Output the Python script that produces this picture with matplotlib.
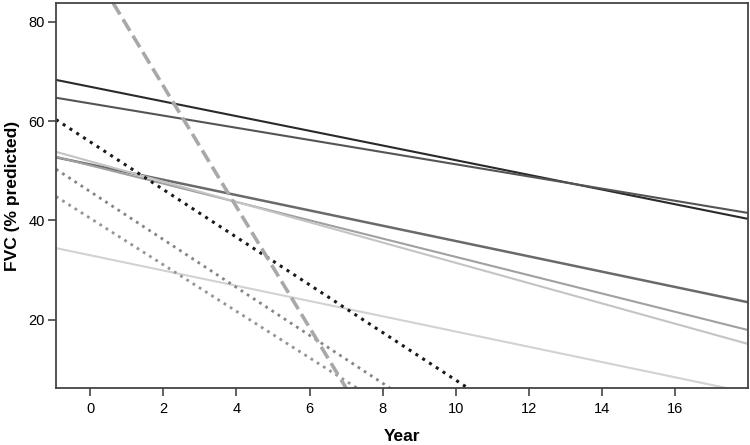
import matplotlib
matplotlib.use("Agg")
import matplotlib.pyplot as plt

# fitted FVC trajectories as (year, FVC) end points
year_start = [-0.93, -0.93, -0.93, -0.93, -0.93, -0.93, -0.93, -0.93, -0.93, 0.63]
fvc_start = [68.3, 64.7, 52.7, 52.8, 53.8, 34.4, 60.3, 50.3, 44.8, 83.8]
year_end = [17.98, 17.98, 17.98, 17.98, 17.98, 17.4, 10.33, 8.2, 7.3, 7.0]
fvc_end = [40.3, 41.5, 23.5, 17.9, 15.1, 6.2, 6.2, 6.2, 6.2, 6.2]

x_ticks = [0, 2, 4, 6, 8, 10, 12, 14, 16]
y_ticks = [20, 40, 60, 80]

colors = ["#2a2a2a", "#555555", "#6a6a6a", "#a0a0a0", "#c4c4c4", "#d2d2d2",
          "#1a1a1a", "#858585", "#959595", "#a8a8a8"]
styles = ["-", "-", "-", "-", "-", "-", ":", ":", ":", "--"]
widths = [1.5, 1.5, 1.8, 1.5, 1.5, 1.5, 2.2, 2.0, 2.0, 2.6]

plt.rcParams["font.family"] = ["Liberation Sans", "DejaVu Sans"]

fig = plt.figure(figsize=(7.5, 4.45), dpi=100)
ax = fig.add_axes([0.0747, 0.128, 0.9223, 0.8653])

for i in range(len(year_start)):
    ax.plot([year_start[i], year_end[i]], [fvc_start[i], fvc_end[i]],
            color=colors[i], linestyle=styles[i], linewidth=widths[i],
            solid_capstyle="butt", dash_capstyle="butt")

ax.set_xlim(-0.93, 17.98)
ax.set_ylim(6.2, 83.8)
ax.set_xticks(x_ticks)
ax.set_yticks(y_ticks)
ax.tick_params(direction="out", length=6, width=1.2, color="#444444",
               labelsize=10.5)
ax.tick_params(axis="y", pad=2)
ax.tick_params(axis="x", pad=4)
for s in ax.spines.values():
    s.set_color("#444444")
    s.set_linewidth(1.3)

ax.set_xlabel("Year", fontsize=12.5, fontweight="bold", labelpad=9.5)
ax.set_ylabel("FVC (% predicted)", fontsize=12.5, fontweight="bold", labelpad=6)

fig.savefig("out.png", dpi=100)
